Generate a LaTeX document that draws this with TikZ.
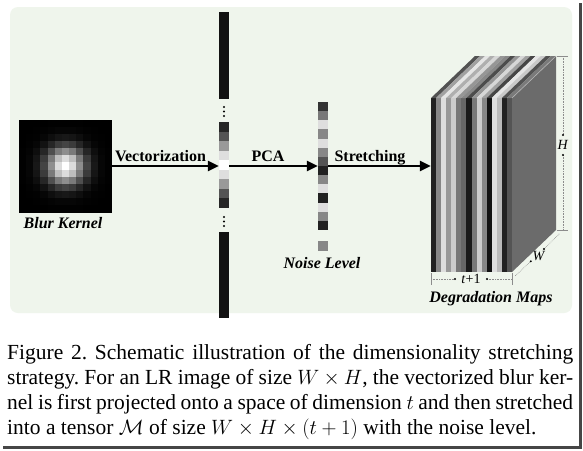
\documentclass[tikz,border=0pt]{standalone}
\usepackage{fontspec}
\setmainfont{Liberation Serif}
\usetikzlibrary{arrows.meta}
\definecolor{panel}{RGB}{239,245,236}
\definecolor{frame}{RGB}{70,70,70}
\begin{document}
\begin{tikzpicture}[x=1pt,y=-1pt,
  arr/.style={line width=2.4pt,-{Triangle[length=11pt,width=10pt]}},
  lbl/.style={font=\fontsize{16}{18}\selectfont\bfseries,inner sep=0pt,anchor=base},
  ttl/.style={font=\fontsize{16}{18}\selectfont\bfseries\itshape,inner sep=0pt,anchor=base},
  dim/.style={densely dotted,black!45,line width=0.6pt},
  tick/.style={black!45,line width=0.6pt},
  dimlbl/.style={font=\fontsize{14}{16}\selectfont,inner sep=1pt},
  pt/.style={circle,fill=black,inner sep=0pt,minimum size=2.2pt}]
\useasboundingbox (0,0) rectangle (583,450);
\fill[white] (0,0) rectangle (583,450);
% panel
\fill[panel,rounded corners=8pt] (10,7) rectangle (572,313);
% frame shadow
\fill[frame] (579,3) rectangle (582,449);
\fill[frame] (3,446) rectangle (582,449);
% ---- blur kernel
\node[inner sep=0pt,minimum size=93pt,fill=black] (kernel) at (65.5,166) {};
\foreach \i in {-6,...,6}{
  \foreach \j in {-6,...,6}{
    \pgfmathsetmacro\v{100*exp(-(\i*\i+\j*\j)/6.8)}
    \fill[white!\v!black] ({65.5+(\i-0.5)*7.154},{166+(\j-0.5)*7.154}) rectangle ++(7.154,7.154);
  }}
\node[ttl] (bk) at (63,228) {Blur Kernel};
% ---- vector column
\node[inner sep=0pt,minimum width=10pt,minimum height=306pt] (vec) at (224,165) {};
\fill[black!93] (219,12) rectangle (229,99);
\fill[black!93] (219,232) rectangle (229,318);
\foreach \c [count=\k from 0] in {85,67,40,13,0,13,40,67,85}{
  \fill[black!\c] (219,{122+\k*9.56}) rectangle (229,{122+(\k+1)*9.56});
}
\foreach \y in {107,111.5,116,217,221.5,226}{\fill[black] (224,\y) circle (1.1pt);}
% ---- noise column
\node[inner sep=0pt,minimum width=10pt,minimum height=128pt] (noise) at (323,166) {};
\foreach \c [count=\k from 0] in {80,53,13,47,13,47,67,87,47,13,87,13,47,87}{
  \fill[black!\c] (318,{102+\k*9.143}) rectangle (328,{102+(\k+1)*9.143});
}
\fill[black!47] (318,241) rectangle (328,251);
\node[ttl] (nl) at (322,268) {Noise Level};
% ---- cube
\node[inner sep=0pt,minimum width=81pt,minimum height=174pt] (front) at (471.5,185) {};
\fill[black!58] (512,98) -- (556,56) -- (556,230) -- (512,272) -- cycle;
\foreach \c [count=\k from 0] in {87,47,13,40,20,53,60,90,53,20,47,93,13,27,87,67}{
  \pgfmathsetmacro\xa{431+\k*5.0625}
  \pgfmathsetmacro\xb{431+(\k+1)*5.0625}
  \pgfmathsetmacro\tc{0.78*\c}
  \fill[black!\c] (\xa,98) rectangle (\xb,272);
  \fill[black!\tc] (\xa,98) -- (\xb,98) -- ({\xb+44},56) -- ({\xa+44},56) -- cycle;
}
\draw[black!30,line width=0.6pt] (512,98) -- (556,56);
\node[ttl] (dm) at (491,302) {Degradation Maps};
% H dimension
\coordinate (h1) at (563,56);
\coordinate (h2) at (563,230);
\node[dimlbl] (hl) at (563,145) {\textit{H}};
\draw[tick] (557,56) -- (568,56);
\draw[tick] (557,230) -- (568,230);
\draw[dim] (h1) -- (563,135);
\draw[dim] (563,155) -- (h2);
\node[pt] at (563,135) {};
\node[pt] at (563,155) {};
% t+1 dimension
\draw[tick] (431,273) -- (431,285);
\draw[tick] (512,273) -- (512,285);
\draw[dim] (431,279) -- (455,279);
\draw[dim] (487,279) -- (512,279);
\node[pt] at (455,279) {};
\node[pt] at (487,279) {};
\node[dimlbl] (tl) at (471,279) {\textit{t}+1};
% W dimension
\draw[dim] (515.4,275.7) -- (530.8,261.3);
\draw[dim] (544,249) -- (559.4,233.7);
\node[pt] at (530.8,261.3) {};
\node[pt] at (544,249) {};
\node[dimlbl] (wl) at (539,256) {\textit{W}};
% arrows
\draw[arr] (kernel.east) -- (kernel.east -| vec.west);
\draw[arr] (vec.east |- kernel.east) -- (kernel.east -| noise.west);
\draw[arr] (noise.east |- kernel.east) -- (kernel.east -| front.west);
\node[lbl] (l1) at (160.5,161) {Vectorization};
\node[lbl] (l2) at (268,161) {PCA};
\node[lbl] (l3) at (370,161) {Stretching};
% caption
\node[anchor=north west,inner sep=0pt,text width=566pt,align=justify,
  font=\fontsize{21.5}{25}\selectfont\frenchspacing] (cap) at (7,344)
 {Figure 2. Schematic illustration of the dimensionality stretching\linebreak
 strategy. For an LR image of size $W\times H$, the vectorized blur ker-\linebreak
 nel is first projected onto a space of dimension $t$ and then stretched\linebreak
 into a tensor $\mathcal{M}$ of size $W\times H\times(t+1)$ with the noise level.};
\end{tikzpicture}
\end{document}
